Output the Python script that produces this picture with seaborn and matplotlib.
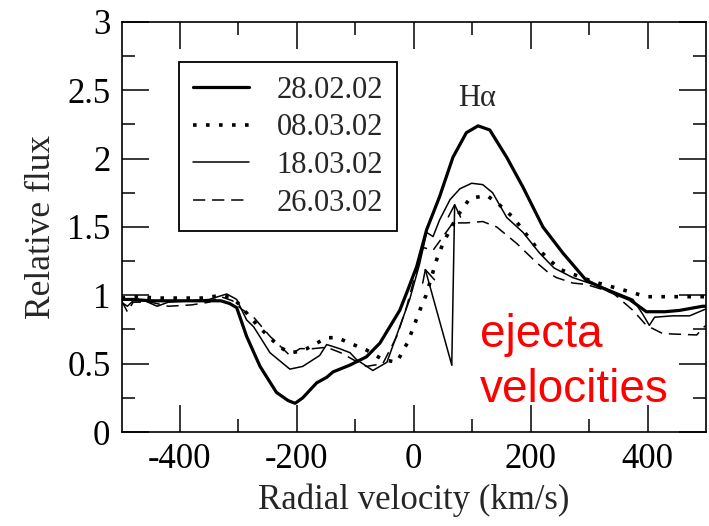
import matplotlib
matplotlib.use("Agg")
import matplotlib.pyplot as plt
from matplotlib.ticker import MultipleLocator, FuncFormatter
import seaborn as sns
import pandas as pd
import numpy as np

sns.set_style("ticks")
plt.rcParams['font.family'] = ['Liberation Serif', 'DejaVu Serif']
plt.rcParams['axes.unicode_minus'] = False

labels = ["28.02.02", "08.03.02", "18.03.02", "26.03.02"]

v_280202 = [-500, -480, -450, -400, -350, -330, -315, -303, -286, -263, -235, -215, -203, -190,
            -166, -149, -138, -109, -81, -58, -41, -24, -12, 5, 22, 44, 67, 90, 110, 130, 159, 187,
            221, 255, 295, 340, 369, 398, 430, 455, 494, 500]
f_280202 = [0.97, 0.97, 0.96, 0.96, 0.96, 0.96, 0.94, 0.91, 0.70, 0.48, 0.29, 0.23, 0.21, 0.25,
            0.36, 0.40, 0.44, 0.49, 0.55, 0.65, 0.77, 0.89, 1.02, 1.21, 1.48, 1.72, 2.01, 2.19, 2.24, 2.21, 2.01, 1.79,
            1.50, 1.31, 1.11, 1.02, 0.97, 0.88, 0.88, 0.89, 0.92, 0.92]

v_080302 = [-500, -470, -440, -400, -360, -330, -310, -295, -286, -263, -229, -212, -195, -183,
            -166, -149, -130, -115, -81, -53, -29, -10, 5, 13, 21, 39, 50, 73, 96, 125, 142, 170,
            210, 227, 250, 307, 358, 398, 455, 500]
f_080302 = [0.98, 0.99, 0.98, 0.98, 0.98, 1.00, 0.98, 0.92, 0.87, 0.76, 0.62, 0.58, 0.59, 0.61,
            0.65, 0.69, 0.69, 0.66, 0.60, 0.53, 0.51, 0.66, 0.83, 0.92, 1.00, 1.26, 1.38, 1.57, 1.71, 1.73, 1.68, 1.57,
            1.35, 1.28, 1.19, 1.10, 1.04, 0.99, 0.99, 0.99]

v_180302 = [-500, -490, -480, -460, -439, -420, -380, -350, -320, -303, -286, -274, -246, -212,
            -190, -161, -149, -127, -109, -98, -70, -46, -24, -7, 10, 22, 33, 44, 62, 79, 99, 118,
            135, 159, 187, 215, 240, 272, 300, 329, 375, 392, 403, 412, 443, 472, 494, 500]
f_180302 = [0.95, 0.92, 0.96, 0.96, 0.92, 0.95, 0.96, 0.97, 1.01, 0.97, 0.82, 0.77, 0.58, 0.46,
            0.48, 0.56, 0.64, 0.61, 0.58, 0.53, 0.45, 0.51, 0.77, 0.97, 1.23, 1.46, 1.43, 1.55, 1.70, 1.78, 1.82, 1.81,
            1.75, 1.57, 1.46, 1.31, 1.20, 1.13, 1.09, 1.05, 0.97, 0.86, 0.78, 0.84, 0.85, 0.85, 0.89, 0.90]

v_260302 = [-500, -490, -480, -450, -420, -380, -350, -330, -310, -295, -274, -246, -212, -195,
            -172, -149, -125, -104, -81, -53, -29, -12, 5, 16, 33, 50, 67, 90, 118, 142, 176, 210,
            232, 244, 272, 295, 340, 375, 398, 426, 484, 497, 500]
f_260302 = [0.96, 0.88, 0.95, 0.95, 0.92, 0.93, 0.95, 0.99, 0.96, 0.90, 0.84, 0.70, 0.56, 0.61,
            0.61, 0.62, 0.58, 0.53, 0.48, 0.50, 0.70, 0.92, 1.19, 1.35, 1.33, 1.43, 1.53, 1.53, 1.54, 1.50, 1.38, 1.24,
            1.16, 1.13, 1.09, 1.08, 1.02, 0.89, 0.78, 0.72, 0.71, 0.77, 0.78]

x_ticks = [-400, -200, 0, 200, 400]
x_minor = [-300, -100, 100, 300]
y_ticks = [0, 0.5, 1, 1.5, 2, 2.5, 3]
y_minor = [0.25, 0.75, 1.25, 1.75, 2.25, 2.75]

arrow_base = (65, 0.49)
arrow_tips = [(19, 1.20), (70, 1.675)]

series = [(v_280202, f_280202), (v_080302, f_080302), (v_180302, f_180302), (v_260302, f_260302)]
styles = [dict(lw=2.3, ls="-"),
          dict(lw=2.6, ls=(0, (1, 2.6))),
          dict(lw=1.1, ls="-"),
          dict(lw=1.1, ls=(0, (8, 4.5)))]

fig = plt.figure(figsize=(7.09, 5.26), dpi=100)
ax = fig.add_axes([0.1714, 0.1787, 0.8244, 0.7795])

for (v, f), lab, st in zip(series, labels, styles):
    df = pd.DataFrame({"v": v, "f": f})
    sns.lineplot(data=df, x="v", y="f", ax=ax, color="black", label=lab,
                 estimator=None, sort=False, linewidth=st["lw"], linestyle=st["ls"])

for sp in ax.spines.values():
    sp.set_linewidth(1.2)
    sp.set_edgecolor("black")

ax.set_xlabel("Radial velocity (km/s)", fontsize=25, labelpad=5.5)
ax.set_ylabel("Relative flux", fontsize=25.5, labelpad=6.5)

leg = ax.legend(loc="upper left", bbox_to_anchor=(0.098, 0.902), fontsize=22,
                frameon=True, fancybox=False, edgecolor="black", framealpha=1,
                handlelength=1.85, handletextpad=0.9, labelspacing=0.28,
                borderpad=0.45, borderaxespad=0)
leg.get_frame().set_linewidth(1.3)

ax.text(108, 2.44, "H\u03b1", fontsize=22, ha="center", va="center")

for tip in arrow_tips:
    ax.annotate("", xy=tip, xytext=arrow_base,
                arrowprops=dict(arrowstyle="->", color="black", lw=1.1,
                                mutation_scale=22, shrinkA=0, shrinkB=0))

ax.text(113, 0.62, "ejecta", fontsize=33, color="#ff0000", ha="left", va="baseline",
        family=["Liberation Sans", "DejaVu Sans"])
ax.text(113, 0.22, "velocities", fontsize=33, color="#ff0000", ha="left", va="baseline",
        family=["Liberation Sans", "DejaVu Sans"])

# tick marks drawn on the axis transforms (inward, on all four sides)
xt = ax.get_xaxis_transform()
yt = ax.get_yaxis_transform()
ax_w = 584.5
ax_h = 410.0
for xs, L in ((x_ticks, 27.0), (x_minor, 13.0)):
    for x in xs:
        ax.plot([x, x], [0, L / ax_h], color="black", lw=1.1, transform=xt, clip_on=False,
                solid_capstyle="butt")
        ax.plot([x, x], [1 - L / ax_h, 1], color="black", lw=1.1, transform=xt, clip_on=False,
                solid_capstyle="butt")
for ys, L in ((y_ticks, 27.0), (y_minor, 13.0)):
    for y in ys:
        ax.plot([0, L / ax_w], [y, y], color="black", lw=1.1, transform=yt, clip_on=False,
                solid_capstyle="butt")
        ax.plot([1 - L / ax_w, 1], [y, y], color="black", lw=1.1, transform=yt, clip_on=False,
                solid_capstyle="butt")

ax.set_xlim(-500, 500)
ax.set_ylim(0, 3)
ax.set_xticks(x_ticks)
ax.set_xticklabels([str(t) for t in x_ticks])
ax.set_xticks(x_minor, minor=True)
ax.set_yticks(y_ticks)
ax.set_yticklabels(["%g" % t for t in y_ticks])
ax.set_yticks(y_minor, minor=True)
ax.tick_params(which="both", direction="in", length=0, colors="black")
ax.tick_params(which="major", labelsize=25, pad=8)

fig.savefig("out.png", dpi=100)
